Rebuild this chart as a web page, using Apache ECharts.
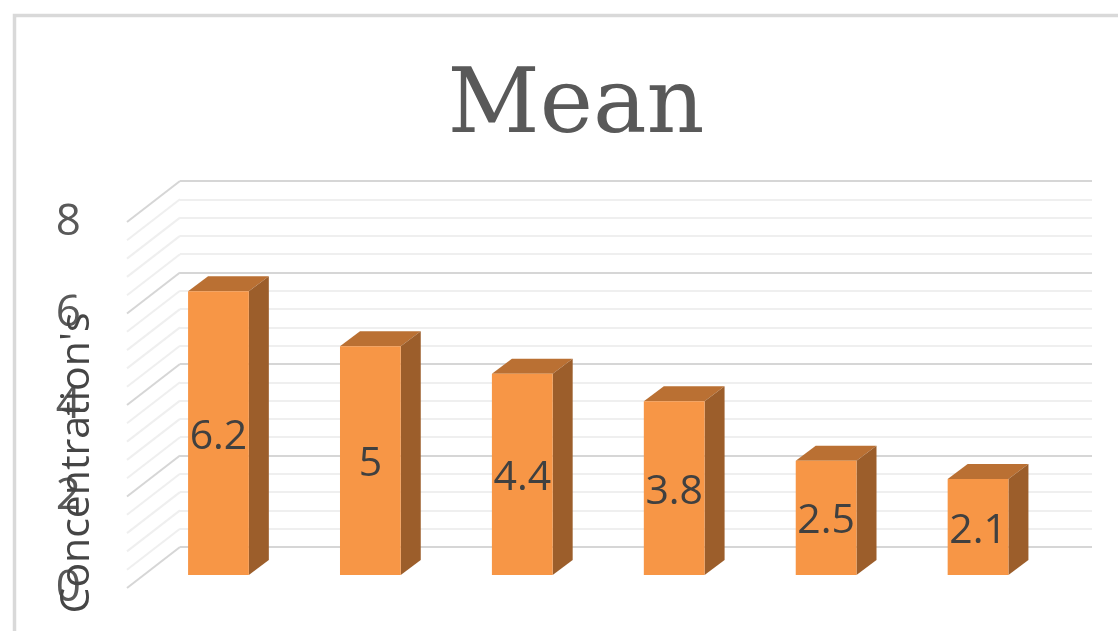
<!DOCTYPE html>
<html>
<head>
<meta charset="utf-8">
<style>
  html, body { margin: 0; padding: 0; background: #ffffff; }
  #chart { width: 1118px; height: 631px; }
</style>
<script src="https://cdn.jsdelivr.net/npm/echarts@6/dist/echarts.min.js"></script>
</head>
<body>
<div id="chart"></div>
<script>
// Chart data
const categories = ['1', '2', '3', '4', '5', '6'];
const meanValues = [6.2, 5, 4.4, 3.8, 2.5, 2.1];
const yTicks = [0, 2, 4, 6, 8];

// 3D look: bar depth offset and wall depth offset (pixels)
const BAR_DX = 20, BAR_DY = -15;
const WALL_DX = -53, WALL_DY = 41;
const FRONT = '#F79646', TOP = '#BA7033', SIDE = '#9C5E2B';
const MAJOR_LINE = '#d6d6d6', MINOR_LINE = '#efefef';

const yMin = yTicks[0], yMax = yTicks[yTicks.length - 1];
const yStep = yTicks[1] - yTicks[0];
const MINOR_SPLIT = 5;

const chart = echarts.init(document.getElementById('chart'), null, { renderer: 'canvas' });

const option = {
  backgroundColor: '#ffffff',
  animation: false,
  title: {
    text: 'Mean',
    left: 571,
    top: 59,
    textAlign: 'center',
    textStyle: { fontFamily: 'DejaVu Serif', fontSize: 90, fontWeight: 'normal', color: '#595959' }
  },
  graphic: [
    {
      type: 'rect', left: 12, top: 13, silent: true,
      shape: { width: 1200, height: 700 },
      style: { fill: 'none', stroke: '#d9d9d9', lineWidth: 3.5 }
    },
    {
      type: 'text', x: 77, y: 463, rotation: Math.PI / 2, silent: true, z: 10,
      style: {
        text: "Concentration's", fill: '#454545',
        font: '41px "Open Sans"', align: 'center', verticalAlign: 'middle'
      }
    }
  ],
  grid: [
    // back wall
    { left: 180, width: 912, top: 181, height: 366 },
    // front plane of the bars
    { left: 142.5, width: 911.5, top: 209, height: 366 },
    // front edge of the side wall (tick labels)
    { left: 127, width: 10, top: 222, height: 366 }
  ],
  xAxis: [
    { gridIndex: 0, type: 'value', min: 0, max: 1, show: false },
    { gridIndex: 1, type: 'category', data: categories, show: false },
    { gridIndex: 2, type: 'value', min: 0, max: 1, show: false }
  ],
  yAxis: [
    {
      gridIndex: 0, type: 'value', min: yMin, max: yMax, interval: yStep,
      axisLine: { show: false }, axisTick: { show: false }, axisLabel: { show: false },
      splitLine: { show: true, lineStyle: { color: MAJOR_LINE, width: 2 } },
      minorTick: { show: false, splitNumber: MINOR_SPLIT },
      minorSplitLine: { show: true, lineStyle: { color: MINOR_LINE, width: 2 } }
    },
    {
      gridIndex: 1, type: 'value', min: yMin, max: yMax, interval: yStep, show: false
    },
    {
      gridIndex: 2, type: 'value', min: yMin, max: yMax, interval: yStep,
      axisLine: { show: false }, axisTick: { show: false }, splitLine: { show: false },
      axisLabel: { show: true, margin: 46, fontSize: 44, fontFamily: 'Open Sans', color: '#595959' }
    }
  ],
  series: [
    {
      // side wall lines running from the back wall towards the viewer
      type: 'custom', xAxisIndex: 0, yAxisIndex: 0, silent: true, z: 1,
      data: [[0, 0]],
      renderItem: function (params, api) {
        const children = [];
        const minorStep = yStep / MINOR_SPLIT;
        const n = Math.round((yMax - yMin) / minorStep);
        for (let i = 0; i <= n; i++) {
          const v = yMin + i * minorStep;
          const p = api.coord([0, v]);
          const major = i % MINOR_SPLIT === 0;
          children.push({
            type: 'line',
            shape: { x1: p[0], y1: p[1], x2: p[0] + WALL_DX, y2: p[1] + WALL_DY },
            style: { stroke: major ? MAJOR_LINE : MINOR_LINE, lineWidth: 2 }
          });
        }
        return { type: 'group', children: children };
      }
    },
    {
      // 3D columns
      type: 'custom', xAxisIndex: 1, yAxisIndex: 1, z: 5,
      data: meanValues.map(function (v, i) { return [i, v]; }),
      renderItem: function (params, api) {
        const top = api.coord([api.value(0), api.value(1)]);
        const base = api.coord([api.value(0), 0]);
        const bw = api.size([1, 0])[0] * 0.4;
        const l = top[0] - bw / 2, r = top[0] + bw / 2, t = top[1], b = base[1];
        return {
          type: 'group',
          children: [
            {
              type: 'polygon',
              shape: { points: [[l, t], [r, t], [r + BAR_DX, t + BAR_DY], [l + BAR_DX, t + BAR_DY]] },
              style: { fill: TOP }
            },
            {
              type: 'polygon',
              shape: { points: [[r, t], [r + BAR_DX, t + BAR_DY], [r + BAR_DX, b + BAR_DY], [r, b]] },
              style: { fill: SIDE }
            },
            {
              type: 'rect',
              shape: { x: l, y: t, width: bw, height: b - t },
              style: { fill: FRONT }
            },
            {
              type: 'text',
              style: {
                text: String(api.value(1)),
                x: top[0], y: (t + b) / 2 + 4,
                align: 'center', verticalAlign: 'middle',
                font: '41px "Open Sans"', fill: '#404040'
              }
            }
          ]
        };
      }
    }
  ]
};

chart.setOption(option);
</script>
</body>
</html>
